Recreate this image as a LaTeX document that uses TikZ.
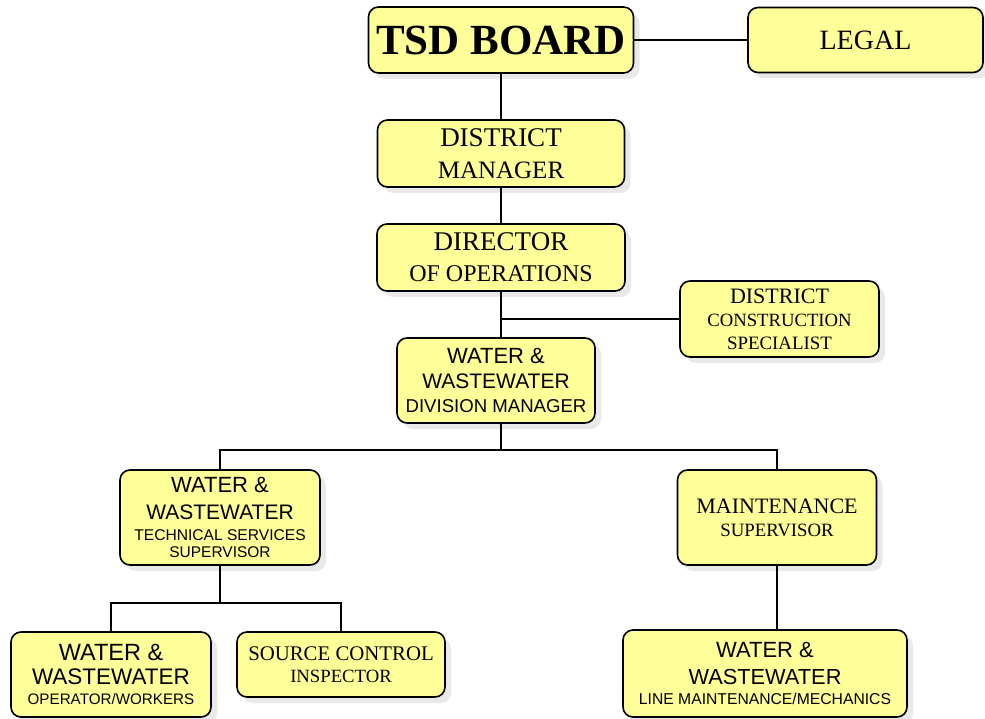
\documentclass[tikz,border=0pt]{standalone}
\usepackage{fontspec}
\setmainfont{Liberation Serif}
\newfontfamily\arialfont{Liberation Sans}
\usetikzlibrary{shadows}

\definecolor{boxyellow}{RGB}{255,255,153}
\newcommand{\fsz}[2]{\fontsize{#1}{#2}\selectfont}

\tikzset{
    orgbox/.style={draw, line width=1.6pt, rounded corners=10pt, fill=boxyellow,
        align=center, inner sep=0pt, text depth=0pt,
        drop shadow={shadow xshift=6pt, shadow yshift=-6pt, fill=black!17}},
    link/.style={line width=1.4pt}
}

\begin{document}
\begin{tikzpicture}[x=1pt,y=-1pt]
    \useasboundingbox (0,0) rectangle (985,719);

    % Board and legal
    \node[orgbox, minimum width=265pt, minimum height=66pt, font=\fsz{43}{48}\bfseries] (board) at (501,40)
        {TSD BOARD};
    \node[orgbox, minimum width=235pt, minimum height=65pt, font=\fsz{28}{32}] (legal) at (865.5,40)
        {LEGAL};

    % Managers
    \node[orgbox, minimum width=247pt, minimum height=67pt, font=\fsz{27}{32}] (manager) at (501,153.5)
        {DISTRICT\\\fsz{25}{32}MANAGER};
    \node[orgbox, minimum width=248pt, minimum height=67pt, font=\fsz{27}{31}] (director) at (501,257.5)
        {DIRECTOR\\\fsz{24}{31}OF OPERATIONS};
    \node[orgbox, minimum width=199pt, minimum height=76pt, font=\fsz{22}{23}] (constr) at (779.5,319)
        {DISTRICT\\\fsz{18.7}{23}CONSTRUCTION\\\fsz{18.9}{23}SPECIALIST};
    \node[orgbox, minimum width=198pt, minimum height=85pt, font=\arialfont\fsz{22}{24.5}] (division) at (496,380.5)
        {WATER \&\\\fsz{21}{24.5}WASTEWATER\\\fsz{18.6}{24.5}DIVISION MANAGER};

    % Supervisors
    \node[orgbox, minimum width=200pt, minimum height=95pt, font=\arialfont\fsz{22}{17}] (tech) at (220,517.5)
        {WATER \&\\[10pt]\fsz{21}{17}WASTEWATER\\[4pt]\fsz{15.6}{17}TECHNICAL SERVICES\\\fsz{15.5}{17}SUPERVISOR};
    \node[orgbox, minimum width=199pt, minimum height=95pt, font=\fsz{22}{23}] (maint) at (777,517.5)
        {MAINTENANCE\\\fsz{18.8}{23}SUPERVISOR};

    % Staff
    \node[orgbox, minimum width=200pt, minimum height=85pt, font=\arialfont\fsz{23.5}{20}] (operator) at (111,674.5)
        {WATER \&\\[4pt]\fsz{22.5}{20}WASTEWATER\\\fsz{15.2}{20}OPERATOR/WORKERS};
    \node[orgbox, minimum width=208pt, minimum height=65pt, font=\fsz{20.8}{22}] (source) at (341,664.5)
        {SOURCE CONTROL\\\fsz{18.7}{22}INSPECTOR};
    \node[orgbox, minimum width=284pt, minimum height=87pt, font=\arialfont\fsz{22}{20}] (linemaint) at (765,673.5)
        {WATER \&\\[7pt]\fsz{21.8}{20}WASTEWATER\\\fsz{15.7}{20}LINE MAINTENANCE/MECHANICS};

    % Bus points
    \coordinate (bus) at (501,450);
    \coordinate (techbus) at (220,603);

    % Connectors
    \draw[link] (board.east) -- (legal.west);
    \draw[link] (board.south) -- (manager.north);
    \draw[link] (manager.south) -- (director.north);
    \draw[link] (director.south) -- (director.south |- division.north);
    \draw[link] (director.south |- constr.west) -- (constr.west);
    \draw[link] (director.south |- division.south) -- (bus);
    \draw[link] (tech.north) |- (bus) -| (maint.north);
    \draw[link] (tech.south) -- (techbus);
    \draw[link] (operator.north) |- (techbus) -| (source.north);
    \draw[link] (maint.south) -- (maint.south |- linemaint.north);
\end{tikzpicture}
\end{document}
